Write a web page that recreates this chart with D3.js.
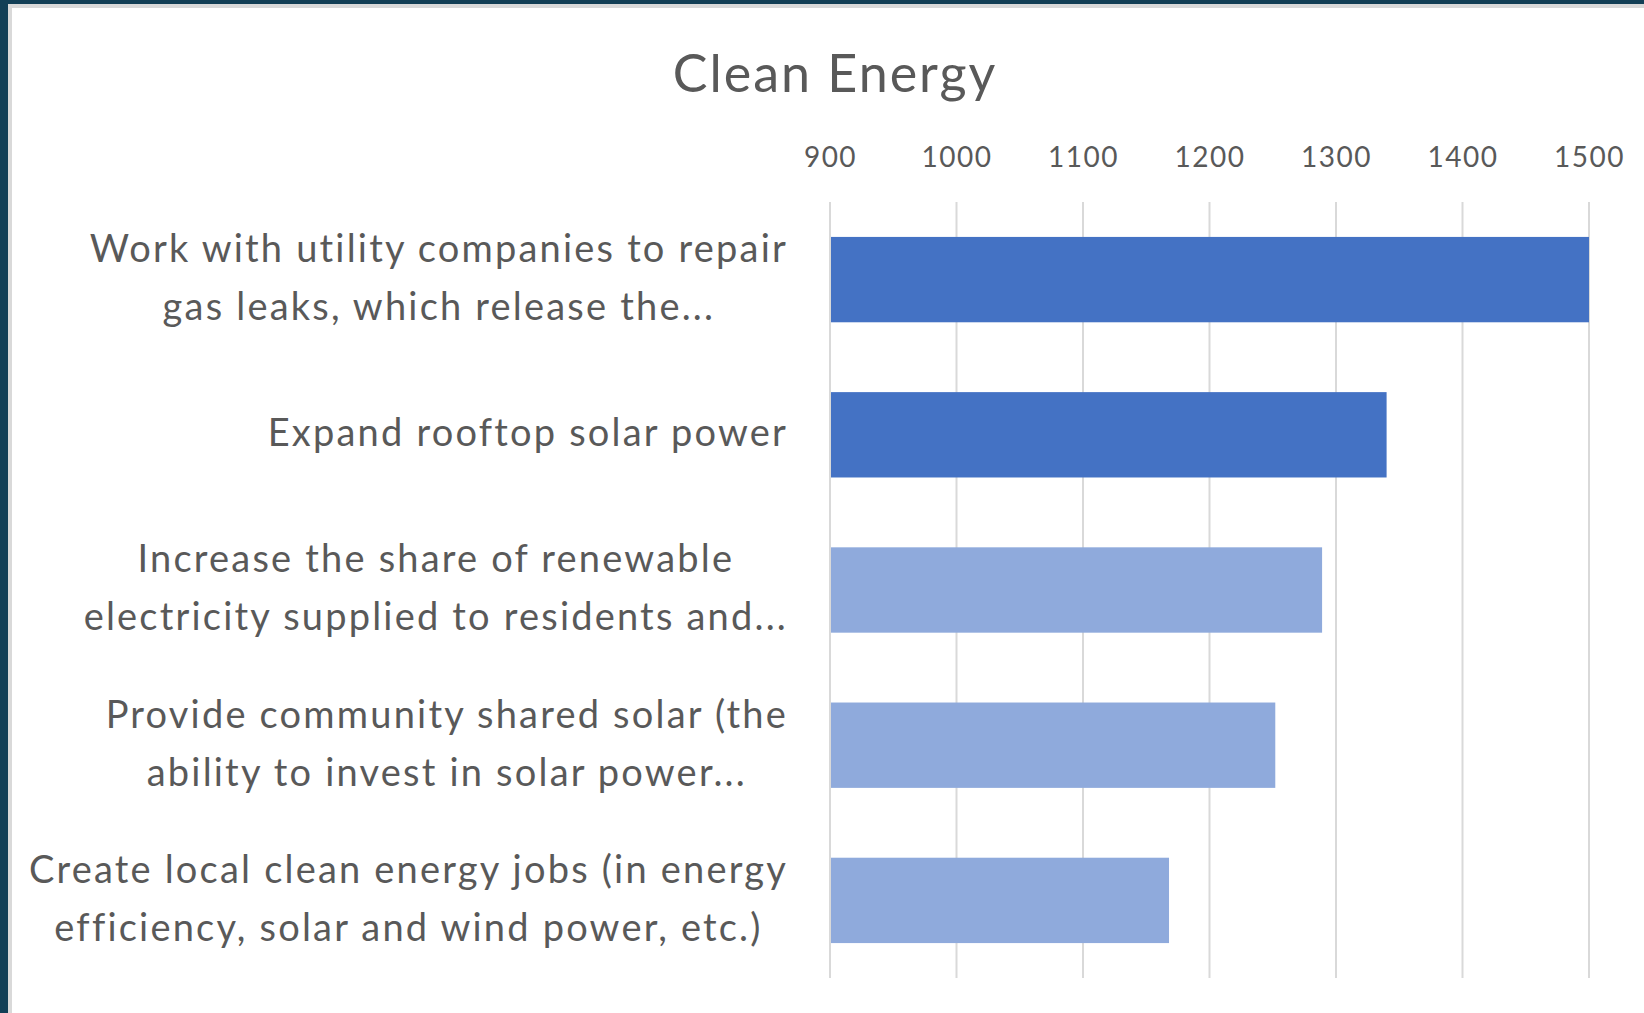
<!DOCTYPE html>
<html>
<head>
<meta charset="utf-8">
<script src="https://cdn.jsdelivr.net/npm/d3@7"></script>
<style>
  html, body { margin: 0; padding: 0; background: #ffffff; }
  svg { display: block; }
  text { font-family: Lato, "Open Sans", sans-serif; fill: #595959; }
</style>
</head>
<body>
<div id="chart"></div>
<script>
const categories = [
  "Work with utility companies to repair\ngas leaks, which release the...",
  "Expand rooftop solar power",
  "Increase the share of renewable\nelectricity supplied to residents and...",
  "Provide community shared solar (the\nability to invest in solar power...",
  "Create local clean energy jobs (in energy\nefficiency, solar and wind power, etc.)"
];
const values = [1500, 1340, 1289, 1252, 1168];
const tickValues = [900, 1000, 1100, 1200, 1300, 1400, 1500];
const title = "Clean Energy";

const width = 1644;
const height = 1013;

const svg = d3
  .select("#chart")
  .append("svg")
  .attr("width", width)
  .attr("height", height);

// frame: dark strip + grey inner edge, like the slide screenshot
svg.append("rect").attr("x", 0).attr("y", 0).attr("width", width).attr("height", height).attr("fill", "#123f56");
svg.append("rect").attr("x", 8).attr("y", 4).attr("width", width - 8).attr("height", height - 4).attr("fill", "#d9d9d9");
svg.append("rect").attr("x", 12).attr("y", 8).attr("width", width - 12).attr("height", height - 8).attr("fill", "#ffffff");

// scales
const x = d3.scaleLinear().domain([900, 1500]).range([830, 1589]);
const y = d3
  .scaleBand()
  .domain(categories)
  .range([202, 978])
  .paddingInner(0.45)
  .paddingOuter(0.225);

// gridlines
svg
  .append("g")
  .selectAll("line")
  .data(tickValues)
  .join("line")
  .attr("x1", (d) => x(d))
  .attr("x2", (d) => x(d))
  .attr("y1", 202)
  .attr("y2", 978)
  .attr("stroke", "#d9d9d9")
  .attr("stroke-width", 2);

// top axis labels
const xAxis = d3
  .axisTop(x)
  .tickValues(tickValues)
  .tickFormat(d3.format("d"))
  .tickSize(0)
  .tickPadding(0);
const gx = svg.append("g").attr("transform", "translate(0, 167)").call(xAxis);
gx.select(".domain").remove();
gx.selectAll("text")
  .attr("dy", 0)
  .style("font-size", "28px")
  .style("letter-spacing", "1.5px")
  .style("font-family", "Lato, sans-serif")
  .attr("fill", "#595959");

// bars
svg
  .append("g")
  .selectAll("rect")
  .data(values)
  .join("rect")
  .attr("x", x(900) + 1)
  .attr("y", (d, i) => y(categories[i]))
  .attr("width", (d) => x(d) - x(900) - 1)
  .attr("height", y.bandwidth())
  .attr("fill", (d, i) => (i < 2 ? "#4472c4" : "#8faadc"));

// category labels: lines centred within a right-aligned block
const labelRight = 788;
const lineGap = 58;
categories.forEach((c) => {
  const lines = c.split("\n");
  const g = svg.append("g");
  const cy = y(c) + y.bandwidth() / 2;
  const texts = g
    .selectAll("text")
    .data(lines)
    .join("text")
    .attr("text-anchor", "middle")
    .attr("dy", "0.3em")
    .attr("y", (d, i) => cy + (i - (lines.length - 1) / 2) * lineGap)
    .style("font-size", "38px")
    .style("letter-spacing", "2.2px")
    .text((d) => d);
  const maxW = d3.max(texts.nodes(), (n) => n.getComputedTextLength());
  texts.attr("x", labelRight - maxW / 2);
});

// title
svg
  .append("text")
  .attr("x", 835)
  .attr("y", 92)
  .attr("text-anchor", "middle")
  .style("font-size", "52px")
  .style("letter-spacing", "2px")
  .text(title);
</script>
</body>
</html>
